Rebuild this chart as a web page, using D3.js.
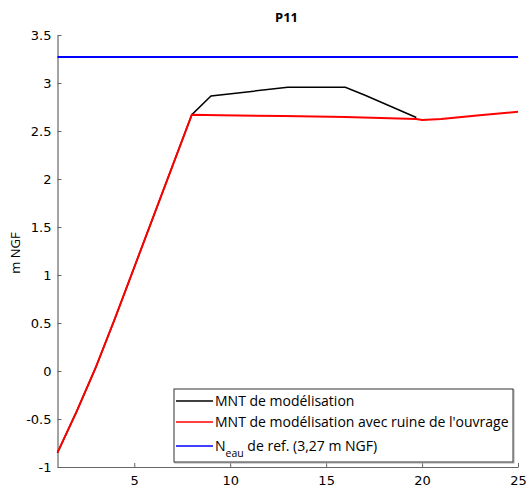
<!DOCTYPE html>
<html><head><meta charset="utf-8">
<script src="https://cdn.jsdelivr.net/npm/d3@7"></script>
<style>body{margin:0;background:#fff}text{font-family:"Open Sans",sans-serif}</style>
</head><body><svg id="c" width="529" height="488"></svg>
<script>
const xTicks=[5,10,15,20,25];
const yTicks=[-1,-0.5,0,0.5,1,1.5,2,2.5,3,3.5];
const mntX=[1,2,3,4,5,6,7,8,9,13,16,17,19.7];
const mntY=[-0.85,-0.42,0.04,0.55,1.08,1.61,2.14,2.67,2.865,2.955,2.955,2.875,2.64];
const ruineX=[1,2,3,4,5,6,7,8,9.5,12.8,16,19.7,20,21,23,25];
const ruineY=[-0.85,-0.42,0.04,0.55,1.08,1.61,2.14,2.67,2.665,2.655,2.645,2.625,2.615,2.625,2.665,2.70];
const neau=3.27;
const legendLabels=["MNT de modélisation","MNT de modélisation avec ruine de l'ouvrage"];

const svg=d3.select("#c");
const L=57.5,R=518,T=35,B=467;
const x=d3.scaleLinear().domain([1,25]).range([L,R]);
const y=d3.scaleLinear().domain([-1,3.5]).range([B,T]);
const ax="#666";

const xa=svg.append("g").attr("transform",`translate(0,${B})`)
 .call(d3.axisBottom(x).tickValues(xTicks).tickSizeInner(-4).tickSizeOuter(0).tickPadding(9));
const ya=svg.append("g").attr("transform",`translate(${L},0)`)
 .call(d3.axisLeft(y).tickValues(yTicks).tickSizeInner(-4).tickSizeOuter(0).tickPadding(6).tickFormat(d=>String(d)));
[xa,ya].forEach(g=>{g.select(".domain").attr("stroke",ax).attr("stroke-width",1.2);
 g.selectAll(".tick line").attr("stroke",ax);
 g.selectAll(".tick text").attr("fill","#000").style("font-family","'DejaVu Sans',sans-serif").style("font-size","13px");});

const line=(xs,ys)=>d3.line().x((d,i)=>x(xs[i])).y(d=>y(d))(ys);
svg.append("path").attr("d",line(mntX,mntY)).attr("fill","none").attr("stroke","#000").attr("stroke-width",1.5);
svg.append("path").attr("d",line(ruineX,ruineY)).attr("fill","none").attr("stroke","#ff0000").attr("stroke-width",2);
svg.append("path").attr("d",d3.line()([[x(1),y(neau)],[x(25),y(neau)]])).attr("fill","none").attr("stroke","#0000ff").attr("stroke-width",2);

svg.append("text").attr("x",286.5).attr("y",22).attr("text-anchor","middle").attr("font-weight","bold").style("font-size","13px").text("P11");
svg.append("text").attr("transform","translate(20,253) rotate(-90)").attr("text-anchor","middle").style("font-size","13px").text("m NGF");

const lg=svg.append("g");
lg.append("rect").attr("x",175).attr("y",390).attr("width",339).attr("height",73).attr("fill","none").attr("stroke","#aaa").attr("stroke-width",1);
lg.append("rect").attr("x",174).attr("y",389).attr("width",339).attr("height",73).attr("fill","#fff").attr("stroke","#333").attr("stroke-width",1);
const ly=[401,422,446], lc=["#000","#ff0000","#0000ff"];
ly.forEach((yy,i)=>{lg.append("line").attr("x1",176).attr("x2",213).attr("y1",yy).attr("y2",yy).attr("stroke",lc[i]).attr("stroke-width",1.6);});
legendLabels.forEach((t,i)=>{lg.append("text").attr("x",215).attr("y",ly[i]+5).style("font-size","14px").text(t);});
const t3=lg.append("text").attr("x",215).attr("y",ly[2]+5).style("font-size","14px");
t3.append("tspan").text("N");
t3.append("tspan").attr("dy",6).style("font-size","10.5px").text("eau");
t3.append("tspan").attr("dy",-6).text(" de ref. (3,27 m NGF)");
</script></body></html>
